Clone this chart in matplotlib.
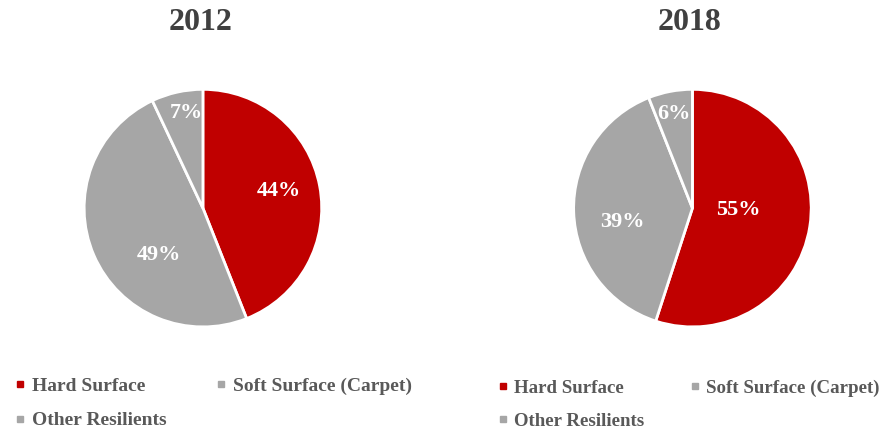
import numpy as np
import matplotlib.pyplot as plt
from matplotlib.lines import Line2D

# dados
categorias = ['Hard Surface', 'Soft Surface (Carpet)', 'Other Resilients']
anos = ['2012', '2018']
valores_2012 = [44, 49, 7]
valores_2018 = [55, 39, 6]
cores = ['#C00000', '#A6A6A6', '#A6A6A6']

plt.rcParams['font.family'] = ['Liberation Serif', 'DejaVu Serif']
plt.rcParams['font.weight'] = 'bold'

fig = plt.figure(figsize=(8.9, 4.3), dpi=100)

# (valores, posicao eixo, (distancia, desvio angular) dos rotulos, titulo x,
#  legenda x/y, espaco entre colunas, tamanho da fonte)
config = [
    (valores_2012, [0.093, 0.237], [(0.66, 2), (0.54, 23), (0.81, -2.5)], 0.225,
     (0.0175, 0.122), 2.55, 14),
    (valores_2018, [0.643, 0.237], [(0.39, 6.5), (0.60, 9.5), (0.81, 0)], 0.775,
     (0.560, 0.118), 2.4, 13.6),
]

# ordem para preencher as linhas da legenda (ncol=2 preenche por coluna)
ordem = [0, 2, 1]

for (vals, pos, rot, tit_x, leg_pos, col_esp, fs), ano in zip(config, anos):
    ax = fig.add_axes([pos[0], pos[1], 0.27, 0.558])
    wedges, _ = ax.pie(vals, colors=cores, startangle=90, counterclock=False,
                       wedgeprops=dict(edgecolor='white', linewidth=2))
    ax.set_aspect('equal')
    ax.set_xlim(-1.01, 1.01)
    ax.set_ylim(-1.01, 1.01)
    for w, v, (d, desvio) in zip(wedges, vals, rot):
        ang = np.deg2rad((w.theta1 + w.theta2) / 2 + desvio)
        ax.text(d * np.cos(ang), d * np.sin(ang), f'{v}%', ha='center', va='center',
                color='white', fontsize=16, fontweight='bold')
    fig.text(tit_x, 1 - 22 / 430, ano, ha='center', va='center',
             fontsize=23, fontweight='bold', color='#404040')

    handles = [Line2D([], [], marker='s', linestyle='', color=cores[i], markersize=4) for i in ordem]
    labels = [categorias[i] for i in ordem]
    fig.legend(handles, labels, loc='upper left', bbox_to_anchor=leg_pos,
               ncol=2, frameon=False, fontsize=fs, handlelength=0.5, handletextpad=0.35,
               columnspacing=col_esp, labelspacing=0.86, labelcolor='#595959',
               borderaxespad=0, borderpad=0)

fig.savefig('out.png', dpi=100, facecolor='white')
